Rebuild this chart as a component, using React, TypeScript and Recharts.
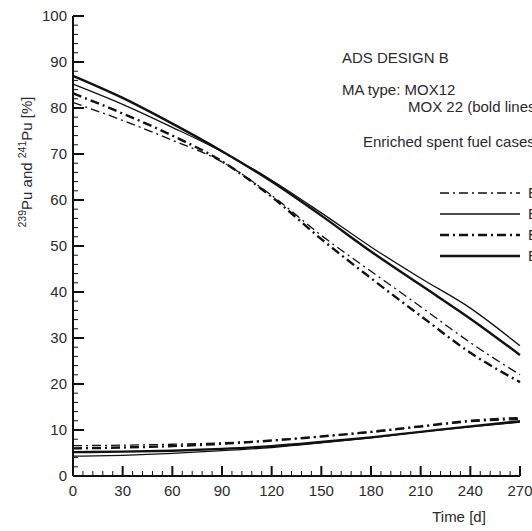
import { LineChart, Line, XAxis, YAxis, Legend, Customized } from 'recharts';

// time axis [d]
const days = [0, 30, 60, 90, 120, 150, 180, 210, 240, 270];

// upper curves
const hiThinDash = [81.2, 77.3, 73.0, 68.3, 61.0, 52.3, 44.5, 36.8, 29.0, 22.0];
const hiThinSolid = [85.2, 80.8, 75.8, 70.5, 64.3, 57.2, 49.8, 43.0, 36.5, 28.3];
const hiBoldDash = [83.2, 78.8, 74.0, 68.4, 60.7, 51.5, 43.0, 34.8, 26.8, 20.4];
const hiBoldSolid = [87.0, 82.2, 76.6, 70.6, 64.0, 56.6, 48.8, 41.5, 34.2, 26.3];

// lower curves
const loThinDash = [6.6, 6.7, 6.9, 7.2, 7.8, 8.6, 9.5, 10.7, 11.8, 12.3];
const loThinSolid = [4.3, 4.5, 4.9, 5.5, 6.2, 7.2, 8.3, 9.6, 10.7, 11.7];
const loBoldDash = [6.0, 6.2, 6.5, 7.0, 7.7, 8.6, 9.6, 10.8, 12.0, 12.6];
const loBoldSolid = [5.2, 5.3, 5.5, 5.9, 6.5, 7.4, 8.4, 9.6, 10.8, 11.9];

const xTicks = [0, 6, 12, 18, 24, 30, 36, 42, 48, 54, 60, 66, 72, 78, 84, 90, 96, 102, 108, 114, 120, 126, 132, 138, 144, 150, 156, 162, 168, 174, 180, 186, 192, 198, 204, 210, 216, 222, 228, 234, 240, 246, 252, 258, 264, 270];
const yTicks = [0, 2, 4, 6, 8, 10, 12, 14, 16, 18, 20, 22, 24, 26, 28, 30, 32, 34, 36, 38, 40, 42, 44, 46, 48, 50, 52, 54, 56, 58, 60, 62, 64, 66, 68, 70, 72, 74, 76, 78, 80, 82, 84, 86, 88, 90, 92, 94, 96, 98, 100];

const legendItems = [
  { name: 'E1 MOX12', dash: '9 4 2 4', width: 1.3 },
  { name: 'E2 MOX12', dash: undefined, width: 1.3 },
  { name: 'E1 MOX22', dash: '9 4 2 4', width: 2.4 },
  { name: 'E2 MOX22', dash: undefined, width: 2.4 },
];

const data = days.map((d, i) => ({
  day: d,
  hiThinDash: hiThinDash[i],
  hiThinSolid: hiThinSolid[i],
  hiBoldDash: hiBoldDash[i],
  hiBoldSolid: hiBoldSolid[i],
  loThinDash: loThinDash[i],
  loThinSolid: loThinSolid[i],
  loBoldDash: loBoldDash[i],
  loBoldSolid: loBoldSolid[i],
}));

const INK = '#111';
const TEXT = '#2a2a2a';
const FONT = '"Liberation Sans", Arial, sans-serif';
const THIN = 1.3;
const BOLD = 2.4;
const DASH = '9 4 2 4';

const XTick = (props: any) => {
  const { x, y, payload } = props;
  const major = payload.value % 30 === 0;
  return (
    <g>
      <line x1={x} x2={x} y1={y} y2={y - (major ? 10 : 5)} stroke={INK} strokeWidth={major ? 2 : 1} />
      {major && (
        <text x={x} y={y + 20} textAnchor="middle" fontSize={15} fill={TEXT} fontFamily={FONT}>
          {payload.value}
        </text>
      )}
    </g>
  );
};

const YTick = (props: any) => {
  const { x, y, payload } = props;
  const major = payload.value % 10 === 0;
  return (
    <g>
      <line x1={x} x2={x + (major ? 11 : 5)} y1={y} y2={y} stroke={INK} strokeWidth={major ? 2 : 1} />
      {major && (
        <text x={x - 6} y={y + 5} textAnchor="end" fontSize={15} fill={TEXT} fontFamily={FONT}>
          {payload.value}
        </text>
      )}
    </g>
  );
};

const Notes = () => (
  <g fontFamily={FONT} fill={TEXT} fontSize={15}>
    <text x={342} y={63}>ADS DESIGN B</text>
    <text x={342} y={95}>MA type: MOX12</text>
    <text x={408} y={112}>MOX 22 (bold lines)</text>
    <text x={363} y={147}>Enriched spent fuel cases</text>
    <text x={459} y={522} textAnchor="middle">Time [d]</text>
    <text x={32} y={162} textAnchor="middle" transform="rotate(-90 32 162)">
      <tspan fontSize={10.5} dy={-6}>239</tspan>
      <tspan dy={6}>Pu and </tspan>
      <tspan fontSize={10.5} dy={-6}>241</tspan>
      <tspan dy={6}>Pu [%]</tspan>
    </text>
  </g>
);

const LegendBox = () => (
  <svg width={160} height={90} style={{ overflow: 'visible' }}>
    {legendItems.map((it, i) => (
      <g key={it.name}>
        <line x1={0} x2={80} y1={8 + i * 21} y2={8 + i * 21} stroke={INK} strokeWidth={it.width} strokeDasharray={it.dash} />
        <text x={88} y={13 + i * 21} fontSize={15} fill={TEXT} fontFamily={FONT}>{it.name}</text>
      </g>
    ))}
  </svg>
);

export default function App() {
  return (
    <div style={{ position: 'absolute', left: 0, top: 0, width: 532, height: 531, overflow: 'hidden', background: '#fff' }}>
      <LineChart width={532} height={531} data={data} margin={{ top: 16, right: 12, bottom: 25, left: 13 }}>
        <XAxis
          dataKey="day"
          type="number"
          domain={[0, 270]}
          ticks={xTicks}
          interval={0}
          tickSize={0}
          tickMargin={0}
          tickLine={false}
          tick={<XTick />}
          height={30}
          axisLine={{ stroke: INK, strokeWidth: 2 }}
        />
        <YAxis
          type="number"
          domain={[0, 100]}
          ticks={yTicks}
          interval={0}
          tickSize={0}
          tickMargin={0}
          tickLine={false}
          tick={<YTick />}
          width={60}
          axisLine={{ stroke: INK, strokeWidth: 2 }}
        />
        <Legend
          layout="vertical"
          align="center"
          verticalAlign="middle"
          content={<LegendBox />}
          wrapperStyle={{ left: 440, top: 185, width: 160 }}
        />
        <Line dataKey="hiThinDash" type="monotone" stroke={INK} strokeWidth={THIN} strokeDasharray={DASH} dot={false} isAnimationActive={false} />
        <Line dataKey="hiThinSolid" type="monotone" stroke={INK} strokeWidth={THIN} dot={false} isAnimationActive={false} />
        <Line dataKey="hiBoldDash" type="monotone" stroke={INK} strokeWidth={BOLD} strokeDasharray={DASH} dot={false} isAnimationActive={false} />
        <Line dataKey="hiBoldSolid" type="monotone" stroke={INK} strokeWidth={BOLD} dot={false} isAnimationActive={false} />
        <Line dataKey="loThinDash" type="monotone" stroke={INK} strokeWidth={THIN} strokeDasharray={DASH} dot={false} isAnimationActive={false} legendType="none" />
        <Line dataKey="loThinSolid" type="monotone" stroke={INK} strokeWidth={THIN} dot={false} isAnimationActive={false} legendType="none" />
        <Line dataKey="loBoldDash" type="monotone" stroke={INK} strokeWidth={BOLD} strokeDasharray={DASH} dot={false} isAnimationActive={false} legendType="none" />
        <Line dataKey="loBoldSolid" type="monotone" stroke={INK} strokeWidth={BOLD} dot={false} isAnimationActive={false} legendType="none" />
        <Customized component={Notes} />
      </LineChart>
    </div>
  );
}
